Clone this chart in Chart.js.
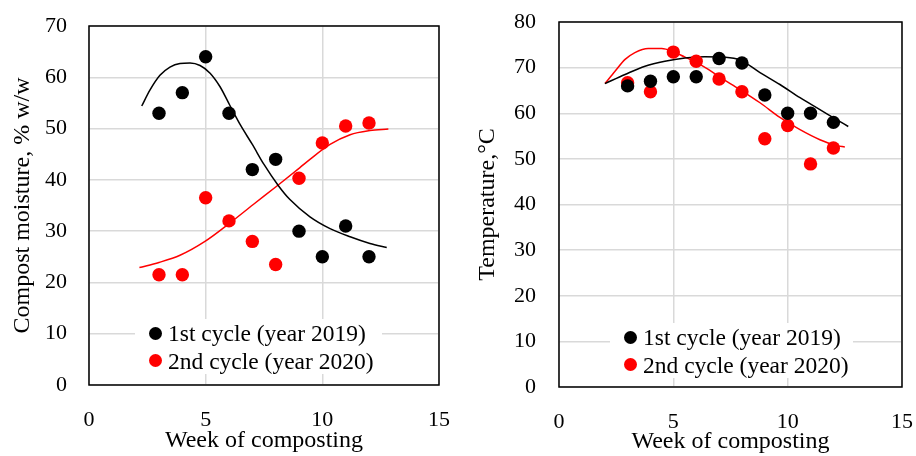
<!DOCTYPE html>
<html>
<head>
<meta charset="utf-8">
<script src="https://cdn.jsdelivr.net/npm/chart.js@4"></script>
<style>
  body { margin: 0; background: #fff; }
  #wrap { position: relative; width: 916px; height: 456px; overflow: hidden; }
  canvas { position: absolute; top: 0; }
  #moisture { left: 0; }
  #temperature { left: 458px; }
  .legend { position: absolute; background: #fff; font: 23.5px "Liberation Serif", serif; color: #000; }
  .legend .row { position: absolute; left: 0; white-space: nowrap; line-height: 28px; height: 28px; }
  .legend .dot { position: absolute; top: 7.5px; width: 13px; height: 13px; border-radius: 50%; }
  .legend .txt { position: absolute; top: 0; }
  #legMoist { left: 135px; top: 319px; width: 247px; height: 55px; }
  #legTemp { left: 610px; top: 323px; width: 243px; height: 55px; }
</style>
</head>
<body>
<div id="wrap">
  <canvas id="moisture" width="458" height="456"></canvas>
  <canvas id="temperature" width="458" height="456"></canvas>
  <div class="legend" id="legMoist"></div>
  <div class="legend" id="legTemp"></div>
</div>
<script>
// weeks of sampling
const weeks = [3, 4, 5, 6, 7, 8, 9, 10, 11, 12];
const seriesNames = ['1st cycle (year 2019)', '2nd cycle (year 2020)'];

// compost moisture, % w/w
const moist2019 = [53, 57, 64, 53, 42, 44, 30, 25, 31, 25];
const moist2020 = [21.5, 21.5, 36.5, 32, 28, 23.5, 40.3, 47.2, 50.5, 51.1];

// trend lines
const moistFit2019X = [2.26, 2.61, 3.04, 3.47, 3.9, 4.33, 4.76, 5.19, 5.61, 6.04, 6.5, 7.0, 7.5, 8.11, 8.6, 9.47, 10.33, 11.19, 12.04, 12.76];
const moistFit2019Y = [54.4, 57.5, 60.4, 62.0, 62.7, 62.8, 62.3, 60.8, 58.2, 54.5, 50.6, 46.9, 43.0, 38.9, 36.2, 32.8, 30.5, 28.9, 27.6, 26.8];
const moistFit2020X = [2.16, 3.0, 3.9, 4.97, 6.04, 7.04, 8.11, 9.04, 9.47, 10.33, 11.19, 12.04, 12.83];
const moistFit2020Y = [22.9, 23.9, 25.3, 28.0, 31.6, 35.2, 39.0, 42.4, 44.0, 46.9, 48.8, 49.6, 49.9];

// temperature, °C
const temp2019 = [66, 67, 68, 68, 72, 71, 64, 60, 60, 58];
const temp2020 = [66.7, 64.7, 73.4, 71.4, 67.5, 64.7, 54.4, 57.3, 48.9, 52.4];

const tempFit2019X = [2.01, 2.89, 3.76, 4.63, 5.51, 6.38, 7.15, 7.91, 8.79, 9.66, 10.54, 11.41, 12.14, 12.65];
const tempFit2019Y = [66.5, 68.5, 70.3, 71.4, 72.1, 72.4, 72.3, 71.7, 68.9, 66.3, 63.4, 60.8, 58.6, 57.1];
const tempFit2020X = [2.01, 2.45, 2.89, 3.32, 3.9, 4.49, 5.0, 5.51, 6.02, 6.53, 7.04, 7.91, 8.79, 9.66, 10.54, 11.41, 12.14, 12.5];
const tempFit2020Y = [66.5, 69.2, 71.8, 73.3, 74.2, 74.2, 73.5, 72.3, 71.1, 69.6, 67.9, 65.2, 62.3, 59.1, 56.4, 54.2, 52.9, 52.6];

const colors = ['#000000', '#ff0000'];
const serif = '"Liberation Serif", serif';

function pts(xs, ys) {
  return xs.map((x, i) => ({ x: x, y: ys[i] }));
}

function dotSet(label, ys, color) {
  return {
    type: 'scatter', label: label, data: pts(weeks, ys),
    backgroundColor: color, borderColor: color,
    pointRadius: 6.7, pointHoverRadius: 6.7, borderWidth: 0
  };
}

function fitSet(xs, ys, color) {
  return {
    type: 'line', label: '', data: pts(xs, ys), fit: true,
    borderColor: color, borderWidth: 1.5, pointRadius: 0,
    cubicInterpolationMode: 'monotone', fill: false
  };
}

// full black frame round the plot area
const frame = {
  id: 'frame',
  beforeDatasetsDraw(chart) {
    const a = chart.chartArea, ctx = chart.ctx;
    ctx.save();
    ctx.strokeStyle = '#000';
    ctx.lineWidth = 1.5;
    ctx.strokeRect(a.left, a.top, a.right - a.left, a.bottom - a.top);
    ctx.restore();
  }
};

function makeChart(id, cfg) {
  return new Chart(document.getElementById(id), {
    type: 'scatter',
    data: {
      datasets: [
        dotSet(seriesNames[0], cfg.y1, colors[0]),
        dotSet(seriesNames[1], cfg.y2, colors[1]),
        fitSet(cfg.f1x, cfg.f1y, colors[0]),
        fitSet(cfg.f2x, cfg.f2y, colors[1])
      ]
    },
    options: {
      responsive: false,
      animation: false,
      events: [],
      layout: { padding: { top: cfg.top, right: cfg.right, left: 0, bottom: 0 } },
      plugins: { legend: { display: false }, tooltip: { enabled: false } },
      scales: {
        x: {
          type: 'linear', min: 0, max: 15,
          ticks: { stepSize: 5, padding: 22, color: '#000', font: { family: serif, size: 22 } },
          grid: { color: '#d9d9d9', lineWidth: 1.5, drawTicks: false },
          border: { display: false },
          title: {
            display: true, text: 'Week of composting', color: '#000',
            font: { family: serif, size: 24 }, padding: { top: 0, bottom: cfg.xTitlePad }
          },
          afterFit(s) { s.height = cfg.xHeight; s.paddingLeft = 0; s.paddingRight = 0; }
        },
        y: {
          min: 0, max: cfg.yMax,
          ticks: { stepSize: 10, padding: cfg.yTickPad, color: '#000', font: { family: serif, size: 22 } },
          grid: { color: '#d9d9d9', lineWidth: 1.5, drawTicks: false },
          border: { display: false },
          title: {
            display: true, text: cfg.yTitle, color: '#000',
            font: { family: serif, size: 24 }, padding: { top: cfg.yTitlePad, bottom: 0 }
          },
          afterFit(s) { s.width = cfg.yWidth; s.paddingTop = 0; s.paddingBottom = 0; }
        }
      }
    },
    plugins: [frame]
  });
}

function fillLegend(chart, boxId) {
  const box = document.getElementById(boxId);
  chart.data.datasets.filter(d => !d.fit).forEach((d, i) => {
    const row = document.createElement('div');
    row.className = 'row';
    row.style.top = (i * 27.7) + 'px';
    row.innerHTML = '<span class="dot" style="left:13.5px;background:' + d.backgroundColor +
      '"></span><span class="txt" style="left:33px">' + d.label + '</span>';
    box.appendChild(row);
  });
}

const moistChart = makeChart('moisture', {
  y1: moist2019, y2: moist2020,
  f1x: moistFit2019X, f1y: moistFit2019Y, f2x: moistFit2020X, f2y: moistFit2020Y,
  yMax: 70, yTitle: 'Compost moisture, % w/w',
  top: 26, right: 19, yWidth: 89, xHeight: 71,
  yTickPad: 22, yTitlePad: 8.6, xTitlePad: 1.3
});

const tempChart = makeChart('temperature', {
  y1: temp2019, y2: temp2020,
  f1x: tempFit2019X, f1y: tempFit2019Y, f2x: tempFit2020X, f2y: tempFit2020Y,
  yMax: 80, yTitle: 'Temperature,°C',
  top: 22, right: 14, yWidth: 101, xHeight: 69,
  yTickPad: 23, yTitlePad: 15, xTitlePad: 0
});

fillLegend(moistChart, 'legMoist');
fillLegend(tempChart, 'legTemp');
</script>
</body>
</html>
